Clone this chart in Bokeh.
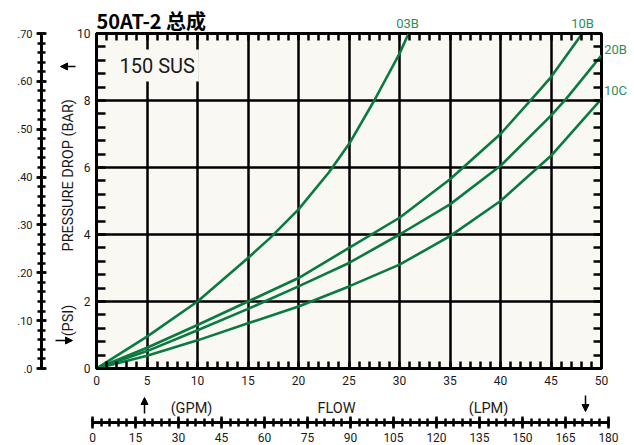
import math
from bokeh.plotting import figure
from bokeh.models import (Range1d, SingleIntervalTicker, LinearAxis, Label, Arrow,
                          NormalHead, CustomJSTickFormatter, GridBox)
from bokeh.layouts import row, column
from bokeh.embed import file_html
from bokeh.resources import INLINE

# ---------------- data ----------------
flow_03B = [0, 5, 10, 15, 17.2, 20, 23, 25, 27.5, 30, 30.9]
dp_03B = [0, 0.95, 2.0, 3.3, 3.9, 4.75, 5.85, 6.7, 8.0, 9.4, 10.0]

flow_10B = [0, 5, 10, 15, 20, 25, 30, 35, 40, 43.7, 45, 48.1]
dp_10B = [0, 0.62, 1.3, 2.0, 2.7, 3.6, 4.5, 5.65, 7.0, 8.25, 8.7, 10.0]

flow_20B = [0, 5, 10, 15, 20, 25, 30, 35, 40, 45, 46.5, 50]
dp_20B = [0, 0.52, 1.14, 1.78, 2.45, 3.15, 4.0, 4.9, 6.05, 7.55, 8.05, 9.35]

flow_10C = [0, 5, 10, 15, 20, 25, 30, 35, 40, 45, 50]
dp_10C = [0, 0.38, 0.84, 1.35, 1.85, 2.45, 3.1, 3.95, 5.0, 6.35, 8.05]

curve_names = ["03B", "10B", "20B", "10C"]
bar_tick_labels = [".0", ".10", ".20", ".30", ".40", ".50", ".60", ".70"]

title_text = "50AT-2 总成"
viscosity_text = "150 SUS"
y_title = "PRESSURE DROP  (BAR)"
y_unit = "(PSI)"
x_texts = ["(GPM)", "FLOW", "(LPM)"]

FONT = "Roboto"
INK = "#1a1a1a"
CURVE = "#0a7a40"
LABEL_GREEN = "#2f8d5a"
CREAM = "#f9f8f3"

W, H = 634, 445

# ---------------- BAR scale (left) ----------------
A = figure(width=54, height=392, x_range=Range1d(0, 1), y_range=Range1d(0, 0.7 + 1e-9),
           output_backend="svg", toolbar_location=None, x_axis_location=None,
           min_border_left=41, min_border_right=8, min_border_top=20, min_border_bottom=12,
           background_fill_color=None, border_fill_color=None, outline_line_color=None)
A.grid.visible = False
ya = A.yaxis[0]
ya.ticker = SingleIntervalTicker(interval=0.1, num_minor_ticks=5)
ya.formatter = CustomJSTickFormatter(args=dict(labels=bar_tick_labels),
                                     code="return labels[Math.round(tick*10)]")
ya.axis_line_width = 3
ya.axis_line_color = "black"
ya.major_tick_in = 5
ya.major_tick_out = 5
ya.minor_tick_in = 4
ya.minor_tick_out = 4
ya.major_tick_line_width = 2.5
ya.minor_tick_line_width = 2.5
ya.major_tick_line_color = "black"
ya.minor_tick_line_color = "black"
ya.major_label_standoff = 4
ya.major_label_text_font = FONT
ya.major_label_text_font_size = "11px"
ya.major_label_text_color = INK

# ---------------- main chart ----------------
B = figure(width=580, height=392, x_range=Range1d(0, 50), y_range=Range1d(0, 10),
           output_backend="svg", toolbar_location=None,
           min_border_left=42, min_border_right=33, min_border_top=33, min_border_bottom=24,
           background_fill_color=CREAM, border_fill_color=None,
           outline_line_color="black", outline_line_width=3)

B.xgrid.ticker = SingleIntervalTicker(interval=5)
B.ygrid.ticker = SingleIntervalTicker(interval=2)
B.grid.grid_line_color = "black"
B.grid.grid_line_width = 2.5
B.grid.grid_line_alpha = 1

empty_fmt = CustomJSTickFormatter(code="return ''")
B.add_layout(LinearAxis(), "above")
B.add_layout(LinearAxis(), "right")

for ax in B.xaxis:
    ax.ticker = SingleIntervalTicker(interval=5, num_minor_ticks=5)
for ax in B.yaxis:
    ax.ticker = SingleIntervalTicker(interval=2, num_minor_ticks=5)
for ax in list(B.xaxis) + list(B.yaxis):
    ax.axis_line_color = None
    ax.major_tick_in = 0
    ax.major_tick_out = 0
    ax.minor_tick_out = 0
    ax.minor_tick_line_width = 2.5
    ax.minor_tick_line_color = "black"
    ax.major_label_text_font = FONT
    ax.major_label_text_font_size = "12px"
    ax.major_label_text_color = INK

B.below[0].minor_tick_in = 7
B.below[0].major_label_standoff = 7
B.left[0].minor_tick_in = 9
B.left[0].major_label_standoff = 6
B.above[0].minor_tick_in = 7
B.above[0].formatter = empty_fmt
B.right[0].minor_tick_in = 8
B.right[0].formatter = empty_fmt

series = [(flow_03B, dp_03B), (flow_10B, dp_10B), (flow_20B, dp_20B), (flow_10C, dp_10C)]
for fx, fy in series:
    B.line(fx, fy, line_color=CURVE, line_width=2.6, line_join="round")

B.add_layout(Label(x=(115 - 96) / 505 * 50, y=(368 - 65) / 335 * 10, text=viscosity_text,
                   text_align="left", text_baseline="middle", text_font=FONT,
                   text_font_size="20px", text_color=INK, background_fill_color=CREAM,
                   padding=4))

# ---------------- LPM scale (bottom) ----------------
C = figure(width=634, height=53, x_range=Range1d(0, 180), y_range=Range1d(0, 1),
           output_backend="svg", toolbar_location=None, y_axis_location=None,
           min_border_left=92, min_border_right=26, min_border_top=0, min_border_bottom=23,
           background_fill_color=None, border_fill_color=None, outline_line_color=None)
C.grid.visible = False
xa = C.xaxis[0]
xa.ticker = SingleIntervalTicker(interval=15, num_minor_ticks=5)
xa.axis_line_width = 3
xa.axis_line_color = "black"
xa.major_tick_in = 6
xa.major_tick_out = 6
xa.minor_tick_in = 4
xa.minor_tick_out = 4
xa.major_tick_line_width = 2.5
xa.minor_tick_line_width = 2.5
xa.major_tick_line_color = "black"
xa.minor_tick_line_color = "black"
xa.major_label_standoff = 4
xa.major_label_text_font = FONT
xa.major_label_text_font_size = "12px"
xa.major_label_text_color = INK

# ---------------- overlay for free texts (page pixel coordinates) ----------------
O = figure(width=W, height=H, x_range=Range1d(0, W), y_range=Range1d(H, 0),
           output_backend="svg", toolbar_location=None,
           x_axis_location=None, y_axis_location=None,
           min_border=0, min_border_left=0, min_border_right=0,
           min_border_top=0, min_border_bottom=0,
           background_fill_color=None, border_fill_color=None, outline_line_color=None)
O.grid.visible = False

O.add_layout(Label(x=96, y=20, text=title_text, text_align="left", text_baseline="middle",
                   text_font="Noto Sans CJK SC", text_font_style="bold",
                   text_font_size="20px", text_color="black"))

name_pos = [(407, 23), (582, 23), (615, 49), (615, 90)]
for name, (px, py) in zip(curve_names, name_pos):
    O.add_layout(Label(x=px, y=py, text=name, text_align="center", text_baseline="middle",
                       text_font=FONT, text_font_size="13px", text_color=LABEL_GREEN))

O.add_layout(Label(x=68, y=173, text=y_title, angle=math.pi / 2, text_align="center",
                   text_baseline="middle", text_font=FONT, text_font_size="14.5px",
                   text_color=INK))
O.add_layout(Label(x=68, y=320, text=y_unit, angle=math.pi / 2, text_align="center",
                   text_baseline="middle", text_font=FONT, text_font_size="14.5px",
                   text_color=INK))

for txt, px in zip(x_texts, [191, 336, 488]):
    O.add_layout(Label(x=px, y=408, text=txt, text_align="center", text_baseline="middle",
                       text_font=FONT, text_font_size="14.5px", text_color=INK))


def arrow(x0, y0, x1, y1):
    O.add_layout(Arrow(end=NormalHead(size=7, fill_color="black", line_color="black"),
                       x_start=x0, y_start=y0, x_end=x1, y_end=y1,
                       line_width=1.5, line_color="black"))


arrow(75, 66, 60, 66)
arrow(55, 340, 72, 340)
arrow(144, 413, 144, 397)
arrow(585, 395, 585, 411)

base = column(row(A, B), C)
layout = GridBox(children=[(base, 0, 0), (O, 0, 0)])

open("out.html", "w").write(file_html(layout, INLINE))
